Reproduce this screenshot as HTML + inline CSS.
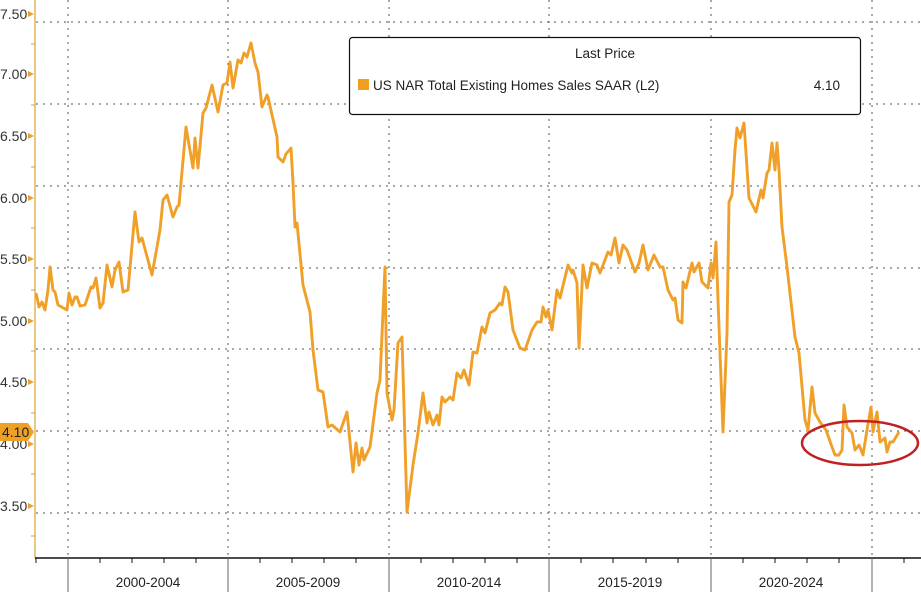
<!DOCTYPE html>
<html><head><meta charset="utf-8"><style>
html,body{margin:0;padding:0;background:#fff;}
svg{display:block;font-family:"Liberation Sans",sans-serif;}
</style></head><body>
<svg width="921" height="592" viewBox="0 0 921 592" xmlns="http://www.w3.org/2000/svg">
<rect width="921" height="592" fill="#fff"/>
<g stroke="#555" stroke-width="1" stroke-dasharray="2,5" fill="none">
<line x1="36" y1="22" x2="921" y2="22"/><line x1="36" y1="104" x2="921" y2="104"/>
<line x1="36" y1="186" x2="921" y2="186"/><line x1="36" y1="268" x2="921" y2="268"/>
<line x1="36" y1="349" x2="921" y2="349"/><line x1="36" y1="431" x2="921" y2="431"/>
<line x1="36" y1="513" x2="921" y2="513"/>
<line x1="68" y1="0" x2="68" y2="558"/><line x1="228" y1="0" x2="228" y2="558"/>
<line x1="389" y1="0" x2="389" y2="558"/><line x1="549" y1="0" x2="549" y2="558"/>
<line x1="711" y1="0" x2="711" y2="558"/><line x1="872" y1="0" x2="872" y2="558"/>
</g>
<line x1="35" y1="0" x2="35" y2="558" stroke="#e0a030" stroke-width="1.2"/>
<g fill="#e8a030">
<path d="M28,11 l6,3 l-6,3z"/><path d="M28,71 l6,3 l-6,3z"/><path d="M28,133 l6,3 l-6,3z"/>
<path d="M28,195 l6,3 l-6,3z"/><path d="M28,256 l6,3 l-6,3z"/><path d="M28,318 l6,3 l-6,3z"/>
<path d="M28,379 l6,3 l-6,3z"/><path d="M28,441 l6,3 l-6,3z"/><path d="M28,503 l6,3 l-6,3z"/>
</g>
<g stroke="#c8a060" stroke-width="1">
<line x1="31" y1="44" x2="35" y2="44"/><line x1="31" y1="105" x2="35" y2="105"/><line x1="31" y1="167" x2="35" y2="167"/>
<line x1="31" y1="228" x2="35" y2="228"/><line x1="31" y1="290" x2="35" y2="290"/><line x1="31" y1="351" x2="35" y2="351"/>
<line x1="31" y1="413" x2="35" y2="413"/><line x1="31" y1="474" x2="35" y2="474"/><line x1="31" y1="536" x2="35" y2="536"/>
</g>
<g font-size="14" fill="#333">
<text x="0" y="19">7.50</text><text x="0" y="79">7.00</text><text x="0" y="141">6.50</text>
<text x="0" y="203">6.00</text><text x="0" y="264">5.50</text><text x="0" y="326">5.00</text>
<text x="0" y="387">4.50</text><text x="0" y="449">4.00</text><text x="0" y="511">3.50</text>
</g>
<path d="M0,423 L28,423 L34,432 L28,441 L0,441Z" fill="#f0a020"/>
<text x="2" y="437" font-size="14" fill="#222">4.10</text>
<line x1="35" y1="558" x2="921" y2="558" stroke="#111" stroke-width="1.5"/>
<g stroke="#666" stroke-width="1">
<line x1="68" y1="558" x2="68" y2="592"/><line x1="228" y1="558" x2="228" y2="592"/>
<line x1="389" y1="558" x2="389" y2="592"/><line x1="549" y1="558" x2="549" y2="592"/>
<line x1="711" y1="558" x2="711" y2="592"/><line x1="872" y1="558" x2="872" y2="592"/>
</g>
<g stroke="#111" stroke-width="1">
<line x1="36" y1="558" x2="36" y2="563"/><line x1="100" y1="558" x2="100" y2="563"/><line x1="132" y1="558" x2="132" y2="563"/>
<line x1="164" y1="558" x2="164" y2="563"/><line x1="196" y1="558" x2="196" y2="563"/><line x1="260" y1="558" x2="260" y2="563"/>
<line x1="292" y1="558" x2="292" y2="563"/><line x1="324" y1="558" x2="324" y2="563"/><line x1="356" y1="558" x2="356" y2="563"/>
<line x1="421" y1="558" x2="421" y2="563"/><line x1="453" y1="558" x2="453" y2="563"/><line x1="485" y1="558" x2="485" y2="563"/>
<line x1="517" y1="558" x2="517" y2="563"/><line x1="581" y1="558" x2="581" y2="563"/><line x1="613" y1="558" x2="613" y2="563"/>
<line x1="646" y1="558" x2="646" y2="563"/><line x1="678" y1="558" x2="678" y2="563"/><line x1="743" y1="558" x2="743" y2="563"/>
<line x1="775" y1="558" x2="775" y2="563"/><line x1="807" y1="558" x2="807" y2="563"/><line x1="839" y1="558" x2="839" y2="563"/>
<line x1="904" y1="558" x2="904" y2="563"/>
</g>
<g font-size="13.5" fill="#222" text-anchor="middle">
<text x="148" y="587">2000-2004</text><text x="308" y="587">2005-2009</text><text x="469" y="587">2010-2014</text>
<text x="630" y="587">2015-2019</text><text x="791" y="587">2020-2024</text>
</g>
<polyline fill="none" stroke="#f0a028" stroke-width="2.9" stroke-linejoin="round" points="
36,293 39,307 42,302 45,310 48,290 50,267 53,290 55,292 58,305 67,310 69,293 72,305 75,297 77,297 80,306 85,305 91,287 93,288 96,278 100,308 103,303 107,265 112,287 115,270 119,262 123,292 128,290 135,212 139,242 142,238 152,275 160,230 163,200 167,195 173,217 177,207 179,205 186,127 193,168 195,138 198,168 203,113 206,108 212,85 218,112 223,85 227,83 230,62 233,88 238,60 241,63 244,53 247,57 251,43 255,63 258,72 262,107 267,95 268,97 277,137 278,157 283,162 286,154 291,148 293,183 295,227 297,223 303,285 310,312 313,350 318,390 323,392 328,427 332,425 340,432 347,412 353,472 356,443 359,465 362,448 364,460 370,447 377,393 380,380 385,267 387,393 392,420 394,410 398,343 402,337 407,512 413,465 418,433 423,393 427,423 429,412 433,425 437,415 439,425 442,397 445,402 450,397 453,400 457,373 461,378 464,370 469,385 473,352 477,353 482,327 485,333 490,313 495,310 500,303 502,305 505,287 508,292 513,330 520,348 525,350 532,330 537,322 541,322 543,307 546,317 548,310 552,330 557,290 560,298 568,265 572,273 573,270 577,283 579,348 583,265 587,288 592,263 597,265 600,273 608,252 611,255 615,238 619,263 623,245 627,250 635,272 639,263 643,245 648,270 654,255 660,267 663,267 668,290 673,300 675,298 678,320 682,323 683,282 686,288 692,263 694,272 699,263 702,282 708,288 711,263 713,278 716,242 718,300 723,432 727,333 729,202 732,195 735,150 737,128 740,138 744,123 749,198 756,212 761,190 763,198 767,173 769,170 772,143 775,170 777,143 779,170 782,227 787,267 795,337 799,353 805,420 808,430 812,387 815,413 820,422 826,430 832,447 835,455 839,455 842,450 844,405 847,427 852,433 855,450 859,445 863,455 867,430 871,407 873,432 877,412 880,442 885,438 887,452 890,442 893,442 899,432"/>
<ellipse cx="860" cy="443" rx="58" ry="22" fill="none" stroke="#c02020" stroke-width="2.5"/>
<rect x="349.5" y="37.5" width="511" height="77" rx="3" fill="#fff" stroke="#111" stroke-width="1.2"/>
<text x="605" y="58" font-size="13.5" fill="#222" text-anchor="middle">Last Price</text>
<rect x="358" y="79" width="11" height="11" fill="#f0a020"/>
<text x="373" y="90" font-size="13.5" fill="#222">US NAR Total Existing Homes Sales SAAR  (L2)</text>
<text x="840" y="90" font-size="13.5" fill="#222" text-anchor="end">4.10</text>
</svg>
</body></html>
